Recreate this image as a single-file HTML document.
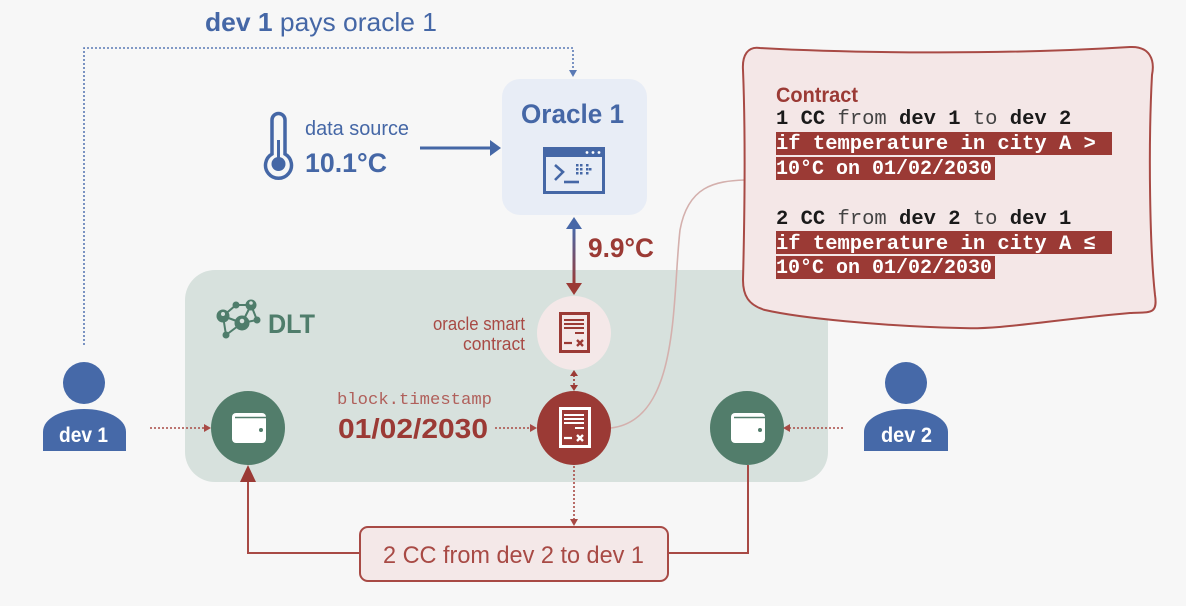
<!DOCTYPE html>
<html><head><meta charset="utf-8"><style>
html,body{margin:0;padding:0;background:#f7f7f7;}
svg{display:block;}
text{font-family:"Liberation Sans",sans-serif;}
text.mono{font-family:"Liberation Mono",monospace;}
</style></head><body>
<svg width="1186" height="606" viewBox="0 0 1186 606" xmlns="http://www.w3.org/2000/svg">
<defs>
<linearGradient id="g1" x1="0" y1="0" x2="0" y2="1">
<stop offset="0" stop-color="#4868a8"/><stop offset="1" stop-color="#9b3a35"/>
</linearGradient>
</defs>
<rect width="1186" height="606" fill="#f7f7f7"/>

<!-- DLT box -->
<rect x="185" y="270" width="643" height="212" rx="30" fill="#d7e1dd"/>

<!-- top dotted blue connector -->
<path d="M84,345 V48 H573 V71" fill="none" stroke="#5a7ab5" stroke-width="1.6" stroke-dasharray="2,2"/>
<polygon points="569,70 577,70 573,77" fill="#5a7ab5"/>
<text x="205" y="31" font-size="26" fill="#4567a6" textLength="232" lengthAdjust="spacingAndGlyphs"><tspan font-weight="bold">dev 1</tspan> pays oracle 1</text>

<!-- Oracle box -->
<rect x="502" y="79" width="145" height="136" rx="18" fill="#e8edf6"/>
<text x="521" y="123" font-size="27" font-weight="bold" fill="#4567a6" textLength="103" lengthAdjust="spacingAndGlyphs">Oracle 1</text>
<!-- terminal icon -->
<rect x="544.5" y="148.5" width="59" height="44" fill="none" stroke="#4567a6" stroke-width="3"/>
<rect x="543" y="147" width="62" height="10" fill="#4567a6"/>
<circle cx="587" cy="152.5" r="1.4" fill="#fff"/><circle cx="593" cy="152.5" r="1.4" fill="#fff"/><circle cx="599" cy="152.5" r="1.4" fill="#fff"/>
<polyline points="555,165 563,172 555,180" fill="none" stroke="#4567a6" stroke-width="2.6"/>
<line x1="564" y1="182" x2="579" y2="182" stroke="#4567a6" stroke-width="2.6"/>
<g fill="#4567a6">
<rect x="576" y="164" width="2.5" height="2.5"/><rect x="580" y="164" width="2.5" height="2.5"/><rect x="586" y="164" width="2.5" height="2.5"/>
<rect x="576" y="168" width="2.5" height="2.5"/><rect x="580" y="168" width="2.5" height="2.5"/><rect x="586" y="168" width="2.5" height="2.5"/><rect x="589" y="168" width="2.5" height="2.5"/>
<rect x="576" y="172" width="2.5" height="2.5"/><rect x="580" y="172" width="2.5" height="2.5"/><rect x="586" y="172" width="2.5" height="2.5"/>
</g>

<!-- thermometer -->
<path d="M272,154 V120 A6.5,6.5 0 0 1 285,120 V154 A13,13 0 1 1 272,154 Z" fill="none" stroke="#4567a6" stroke-width="3.5"/>
<circle cx="278.5" cy="164" r="7" fill="#4567a6"/>
<line x1="278.5" y1="140" x2="278.5" y2="160" stroke="#4567a6" stroke-width="3"/>
<text x="305" y="135" font-size="20" fill="#4567a6" textLength="104" lengthAdjust="spacingAndGlyphs">data source</text>
<text x="305" y="172" font-size="27" font-weight="bold" fill="#4567a6" textLength="82" lengthAdjust="spacingAndGlyphs">10.1°C</text>
<line x1="420" y1="148" x2="492" y2="148" stroke="#4567a6" stroke-width="3"/>
<polygon points="490,140 501,148 490,156" fill="#4567a6"/>

<!-- oracle <-> DLT arrow -->
<rect x="572.5" y="228" width="3" height="56" fill="url(#g1)"/>
<polygon points="566,229 582,229 574,217" fill="#4868a8"/>
<polygon points="566,283 582,283 574,295" fill="#9b3a35"/>
<text x="588" y="257" font-size="27" font-weight="bold" fill="#9b3a35" textLength="66" lengthAdjust="spacingAndGlyphs">9.9°C</text>

<!-- curve to contract -->
<path d="M611,428 C680,420 672,300 680,230 C688,186 715,181 745,180" fill="none" stroke="#d4b0ad" stroke-width="1.6"/>

<!-- Contract box -->
<path d="M760,48 C850,53 1000,55 1130,47 C1150,46 1155,60 1152,75 C1148,150 1150,250 1155,295 C1158,315 1150,312 1130,313 C1050,320 1000,330 960,328 C880,326 800,318 765,310 C748,305 743,295 743,280 C745,200 745,120 743,70 C742,55 748,46 760,48 Z" fill="#f4e7e7" stroke="#a84a45" stroke-width="2"/>
<text x="776" y="102" font-size="21" font-weight="bold" fill="#9b3a35" textLength="82" lengthAdjust="spacingAndGlyphs">Contract</text>
<text class="mono" x="776" y="124" font-size="20.5" fill="#1a1a1a"><tspan font-weight="bold">1 CC</tspan><tspan fill="#444"> from </tspan><tspan font-weight="bold">dev 1</tspan><tspan fill="#444"> to </tspan><tspan font-weight="bold">dev 2</tspan></text>
<rect x="776" y="132" width="336" height="23" fill="#9b3a35"/>
<rect x="776" y="157" width="219" height="23" fill="#9b3a35"/>
<text class="mono" x="776" y="149" font-size="20.5" fill="#fff" font-weight="bold">if temperature in city A &gt;</text>
<text class="mono" x="776" y="174" font-size="20.5" fill="#fff" font-weight="bold" textLength="216" lengthAdjust="spacingAndGlyphs">10°C on 01/02/2030</text>
<text class="mono" x="776" y="224" font-size="20.5" fill="#1a1a1a"><tspan font-weight="bold">2 CC</tspan><tspan fill="#444"> from </tspan><tspan font-weight="bold">dev 2</tspan><tspan fill="#444"> to </tspan><tspan font-weight="bold">dev 1</tspan></text>
<rect x="776" y="231" width="336" height="23" fill="#9b3a35"/>
<rect x="776" y="256" width="219" height="23" fill="#9b3a35"/>
<text class="mono" x="776" y="249" font-size="20.5" fill="#fff" font-weight="bold">if temperature in city A ≤</text>
<text class="mono" x="776" y="273" font-size="20.5" fill="#fff" font-weight="bold" textLength="216" lengthAdjust="spacingAndGlyphs">10°C on 01/02/2030</text>

<!-- DLT label & icon -->
<g stroke="#4f7d6b" stroke-width="2" fill="none">
<line x1="236" y1="305" x2="251" y2="305"/>
<line x1="223" y1="316" x2="236" y2="305"/>
<line x1="223" y1="316" x2="242" y2="323"/>
<line x1="251" y1="305" x2="242" y2="323"/>
<line x1="251" y1="305" x2="257" y2="320"/>
<line x1="242" y1="323" x2="257" y2="320"/>
<line x1="226" y1="335" x2="223" y2="316"/>
<line x1="226" y1="335" x2="242" y2="323"/>
</g>
<g fill="#4f7d6b">
<circle cx="236" cy="305" r="3.5"/><circle cx="251" cy="305" r="5.5"/><circle cx="223" cy="316" r="6.5"/>
<circle cx="242" cy="323" r="7.5"/><circle cx="257" cy="320" r="3.5"/><circle cx="226" cy="335" r="3.5"/>
</g>
<g fill="#d7e1dd"><circle cx="251" cy="303" r="1.8"/><circle cx="223" cy="314" r="2"/><circle cx="242" cy="321" r="2.3"/></g>
<text x="268" y="333" font-size="27" font-weight="bold" fill="#4f7d6b" textLength="47" lengthAdjust="spacingAndGlyphs">DLT</text>

<text x="525" y="330" font-size="18" fill="#a84a45" text-anchor="end" textLength="92" lengthAdjust="spacingAndGlyphs">oracle smart</text>
<text x="525" y="350" font-size="18" fill="#a84a45" text-anchor="end" textLength="62" lengthAdjust="spacingAndGlyphs">contract</text>

<!-- oracle smart contract circle -->
<circle cx="574" cy="333" r="37" fill="#f4e8e8"/>
<g>
<rect x="560.5" y="313.5" width="28" height="38" fill="none" stroke="#9b3a35" stroke-width="3"/>
<line x1="564" y1="320" x2="584" y2="320" stroke="#9b3a35" stroke-width="2"/>
<line x1="564" y1="324" x2="584" y2="324" stroke="#9b3a35" stroke-width="2"/>
<line x1="564" y1="328" x2="584" y2="328" stroke="#9b3a35" stroke-width="2"/>
<line x1="575" y1="333" x2="584" y2="333" stroke="#9b3a35" stroke-width="2"/>
<line x1="564" y1="343" x2="572" y2="343" stroke="#9b3a35" stroke-width="2.2"/>
<path d="M577,340 L583,346 M583,340 L577,346" stroke="#9b3a35" stroke-width="2.4"/>
</g>

<!-- dashed double arrow -->
<line x1="574" y1="375" x2="574" y2="386" stroke="#9b3a35" stroke-width="1.6" stroke-dasharray="2,2"/>
<polygon points="570,376 578,376 574,370" fill="#9b3a35"/>
<polygon points="570,385 578,385 574,391" fill="#9b3a35"/>

<!-- red contract circle -->
<circle cx="574" cy="428" r="37" fill="#9b3a35"/>
<g>
<rect x="560.5" y="408.5" width="29" height="38" fill="none" stroke="#fff" stroke-width="3"/>
<line x1="564" y1="415" x2="584" y2="415" stroke="#fff" stroke-width="2"/>
<line x1="564" y1="419" x2="584" y2="419" stroke="#fff" stroke-width="2"/>
<line x1="564" y1="423" x2="584" y2="423" stroke="#fff" stroke-width="2"/>
<line x1="575" y1="428" x2="584" y2="428" stroke="#fff" stroke-width="2"/>
<line x1="564" y1="438" x2="572" y2="438" stroke="#fff" stroke-width="2.2"/>
<path d="M577,435 L583,441 M583,435 L577,441" stroke="#fff" stroke-width="2.4"/>
</g>

<text class="mono" x="337" y="404" font-size="17" fill="#b0605b" textLength="155" lengthAdjust="spacingAndGlyphs">block.timestamp</text>
<text x="338" y="438" font-size="28" font-weight="bold" fill="#9b3a35" textLength="150" lengthAdjust="spacingAndGlyphs">01/02/2030</text>
<line x1="495" y1="428" x2="531" y2="428" stroke="#a84a45" stroke-width="1.6" stroke-dasharray="2,2"/>
<polygon points="530,424 537,428 530,432" fill="#a84a45"/>

<!-- wallets -->
<circle cx="248" cy="428" r="37" fill="#527d6b"/>
<rect x="232" y="413" width="34" height="30" rx="4" fill="#fff"/>
<line x1="235" y1="417.5" x2="266" y2="417.5" stroke="#527d6b" stroke-width="1.5"/>
<circle cx="261" cy="430" r="2" fill="#527d6b"/>

<circle cx="747" cy="428" r="37" fill="#527d6b"/>
<rect x="731" y="413" width="34" height="30" rx="4" fill="#fff"/>
<line x1="734" y1="417.5" x2="765" y2="417.5" stroke="#527d6b" stroke-width="1.5"/>
<circle cx="760" cy="430" r="2" fill="#527d6b"/>

<!-- dev1 -->
<circle cx="84" cy="383" r="21" fill="#4669a8"/>
<path d="M43,451 L43,432 C43,418 62,409 84,409 C106,409 126,418 126,432 L126,451 Z" fill="#4669a8"/>
<text x="59" y="442" font-size="21" font-weight="bold" fill="#fff" textLength="49" lengthAdjust="spacingAndGlyphs">dev 1</text>
<line x1="150" y1="428" x2="205" y2="428" stroke="#a84a45" stroke-width="1.6" stroke-dasharray="2,2"/>
<polygon points="204,424 211,428 204,432" fill="#a84a45"/>

<!-- dev2 -->
<circle cx="906" cy="383" r="21" fill="#4669a8"/>
<path d="M864,451 L864,432 C864,418 884,409 906,409 C928,409 948,418 948,432 L948,451 Z" fill="#4669a8"/>
<text x="881" y="442" font-size="21" font-weight="bold" fill="#fff" textLength="51" lengthAdjust="spacingAndGlyphs">dev 2</text>
<line x1="843" y1="428" x2="789" y2="428" stroke="#a84a45" stroke-width="1.6" stroke-dasharray="2,2"/>
<polygon points="790,424 783,428 790,432" fill="#a84a45"/>

<!-- red circle -> box -->
<line x1="574" y1="466" x2="574" y2="520" stroke="#a84a45" stroke-width="1.6" stroke-dasharray="2,2"/>
<polygon points="570,519 578,519 574,526" fill="#a84a45"/>

<!-- box connectors -->
<path d="M359,553 H248 V481" fill="none" stroke="#a84a45" stroke-width="2"/>
<polygon points="240,482 256,482 248,465" fill="#9b3a35"/>
<path d="M668,553 H748 V465" fill="none" stroke="#a84a45" stroke-width="2"/>

<rect x="360" y="527" width="308" height="54" rx="8" fill="#f4e8e8" stroke="#a84a45" stroke-width="2"/>
<text x="383" y="563" font-size="24" fill="#a84a45" textLength="261" lengthAdjust="spacingAndGlyphs">2 CC from dev 2 to dev 1</text>
</svg>
</body></html>
